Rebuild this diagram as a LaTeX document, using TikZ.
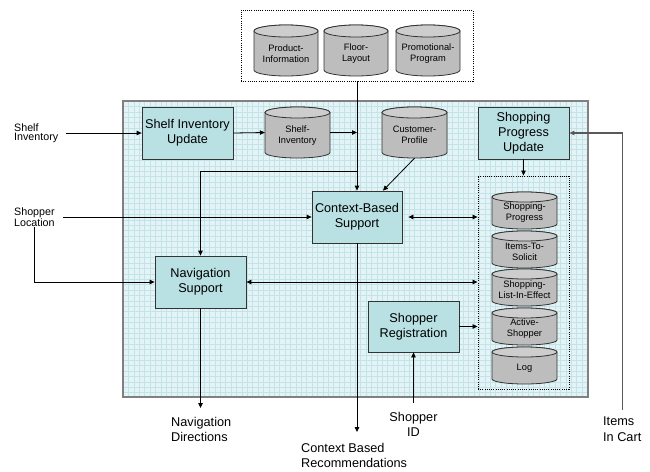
\documentclass[tikz,border=0pt]{standalone}
\usepackage{fontspec}
\setmainfont{Liberation Sans}
\usetikzlibrary{arrows.meta,calc}
\definecolor{boxfill}{HTML}{B9E0E3}
\definecolor{gridbg}{HTML}{E4F4F6}
\definecolor{gridln}{HTML}{C2E4E8}
\definecolor{cylbody}{HTML}{BDBDBD}
\definecolor{cyltop}{HTML}{CDCDCD}
\tikzset{
 procbox/.style={draw=black!80, fill=boxfill, line width=0.8pt, minimum width=91pt, minimum height=52pt, align=center, font=\fontsize{12.7}{15}\selectfont, inner sep=0},
 arr/.style={-{Triangle[length=5pt,width=4.5pt]}, line width=0.8pt},
 darr/.style={{Triangle[length=5pt,width=4.5pt]}-{Triangle[length=5pt,width=4.5pt]}, line width=0.8pt},
 grayarr/.style={-{Triangle[length=5pt,width=4.5pt]}, line width=1.1pt, draw=black!65},
 outlbl/.style={font=\fontsize{12.7}{15.5}\selectfont, align=left, inner sep=0},
 smalllbl/.style={font=\fontsize{10.7}{9.5}\selectfont, align=left, inner sep=0},
 cyltxt/.style={font=\fontsize{9.3}{11}\selectfont, align=center, inner sep=0},
 dotbox/.style={draw, line width=0.9pt, dash pattern=on 1pt off 1.2pt},
 cylline/.style={draw=black!80, line width=0.8pt},
}
\newcommand\dbcyl[7]{%
 \path[cylline, fill=cylbody] (#2,#3+#6) -- (#2,#5-#6) arc[start angle=180,end angle=0,x radius={(#4-#2)/2},y radius=#6] -- (#4,#3+#6) arc[start angle=0,end angle=-180,x radius={(#4-#2)/2},y radius=#6] -- cycle;
 \path[cylline, fill=cyltop] ({(#2+#4)/2},#3+#6) ellipse[x radius={(#4-#2)/2}, y radius=#6];
 \node[inner sep=0, minimum width={(#4-#2)*1pt}, minimum height={(#5-#3)*1pt}] (#1) at ({(#2+#4)/2},{(#3+#5)/2}) {};
 \node[cyltxt] (#1-t) at ({(#2+#4)/2},{(#3+#5)/2+#6/2}) {#7};
}
\begin{document}
\begin{tikzpicture}[x=1pt,y=-1pt]
\useasboundingbox (0,0) rectangle (650,471);
% main grid area
\fill[gridbg] (123,101) rectangle (588,397);
\foreach \gx in {128.4,133.8,...,587} \draw[gridln, line width=0.25pt] (\gx,101) -- (\gx,397);
\foreach \gy in {106.4,111.8,...,396} \draw[gridln, line width=0.25pt] (123,\gy) -- (588,\gy);
\draw[black!50, line width=1.1pt] (123,101) rectangle (588,397);
% top data group
\node[dotbox, minimum width=232pt, minimum height=71pt, inner sep=0] (topbox) at (357,45.5) {};
\dbcyl{pi}{254}{25}{318}{76}{6}{Product-\\Information}
\dbcyl{fl}{324}{25}{388}{76}{6}{Floor-\\Layout}
\dbcyl{pp}{396}{25}{460}{76}{6}{Promotional-\\Program}
% process boxes
\node[procbox] (siu) at (187.5,133) {Shelf Inventory\\Update};
\node[procbox] (spu) at (523.5,133) {Shopping\\Progress\\Update};
\node[procbox, minimum width=90pt] (cbs) at (357,217) {Context-Based\\Support};
\node[procbox] (ns) at (200.5,282) {Navigation\\Support};
\node[procbox, minimum height=51pt] (sr) at (413.5,326.5) {Shopper\\Registration};
\dbcyl{si}{265}{107}{330}{158}{5.5}{Shelf-\\Inventory}
\dbcyl{cp}{382}{107}{447}{158}{5.5}{Customer-\\Profile}
% stack
\node[dotbox, minimum width=91pt, minimum height=213pt, inner sep=0] (stack) at (523.5,282.5) {};
\dbcyl{sp}{492}{192}{557}{229}{5}{Shopping-\\Progress}
\dbcyl{its}{492}{231}{557}{268}{5}{Items-To-\\Solicit}
\dbcyl{sl}{492}{269}{557}{306}{5}{Shopping-\\List-In-Effect}
\dbcyl{as}{492}{308}{557}{345}{5}{Active-\\Shopper}
\dbcyl{lg}{492}{347}{557}{384}{5}{Log}
% outside labels
\node[smalllbl, anchor=west] (lblSI) at (14,133) {Shelf\\Inventory};
\node[smalllbl, anchor=west] (lblSL) at (14,217) {Shopper\\Location};
\node[outlbl, anchor=north west] (lblND) at (171,417) {Navigation\\Directions};
\node[outlbl, anchor=north west] (lblCBR) at (301,443) {Context Based\\Recommendations};
\node[outlbl, align=center, anchor=north] (lblID) at (413.5,412) {Shopper\\ID};
\node[outlbl, anchor=north west] (lblIC) at (603,417) {Items\\In Cart};
% connectors
\coordinate (j1) at (357,171);
\draw[arr] (topbox.south) -- (cbs.north);
\draw[arr] (j1) -| (ns.north);
\draw[arr] ($(lblSI.east)+(8,0)$) -- (siu.west);
\draw[arr] (siu.east) -- (si.west);
\draw[arr] (si.east) -- (si.east -| cbs.north);
\draw[arr] (cp.south) -- ($(cbs.north)+(26,0)$);
\draw[arr] ($(lblSL.east)+(8,0)$) -- (cbs.west);
\draw[arr] (lblSL.south) |- (ns.west);
\draw[darr, shorten <=6pt] (cbs.east) -- (cbs.east -| stack.west);
\draw[darr] (ns.east) -- (ns.east -| stack.west);
\draw[arr] (sr.east) -- (sr.east -| stack.west);
\draw[arr] (spu.south) -- (stack.north);
\draw[arr] (ns.south) -- ($(ns.south |- lblND.north)+(0,-9)$);
\draw[arr] (cbs.south) -- ($(cbs.south |- lblCBR.north)+(0,-11)$);
\draw[arr] ($(lblID.north)+(0,-9)$) -- (sr.south);
\draw[grayarr] ($(lblIC.north)+(0,-7)$) |- (spu.east);
\end{tikzpicture}
\end{document}
